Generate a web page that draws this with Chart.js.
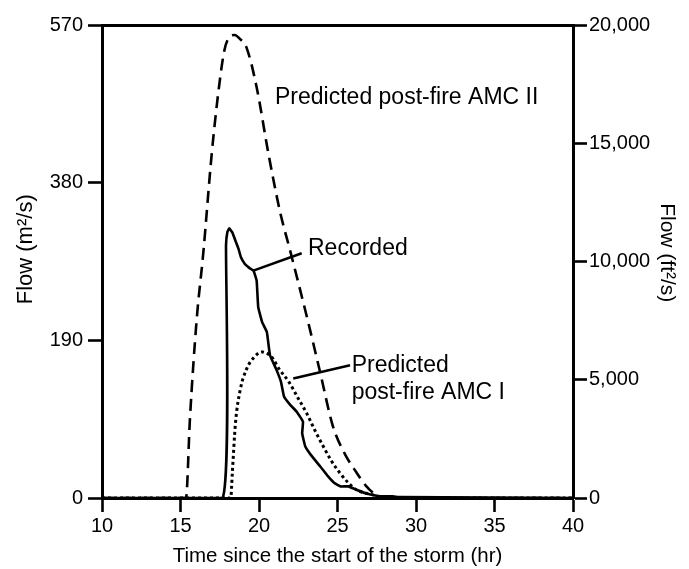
<!DOCTYPE html>
<html>
<head>
<meta charset="utf-8">
<script src="https://cdn.jsdelivr.net/npm/chart.js@4.4.1/dist/chart.umd.min.js"></script>
<style>
  html, body { margin: 0; padding: 0; background: #fff; }
  #wrap { width: 689px; height: 569px; }
</style>
</head>
<body>
<div id="wrap"><canvas id="c" width="689" height="569"></canvas></div>
<script>
// ---- Data (time in hr, flow in m²/s) ----
const amc2Time  = [10, 15.35, 15.6, 16.03, 16.45, 16.99, 17.45, 17.8, 18.1, 18.45, 18.8, 19.2, 19.85, 20.6, 21.34, 21.97, 23.04, 23.9, 24.7, 25.5, 26.2, 26.8, 27.5, 28, 40];
const amc2Flow  = [0, 0, 95, 215, 295, 415, 495, 540, 555, 558, 553, 543, 495, 415, 345, 299, 219, 151, 87, 52, 31, 15, 3, 0, 0];

const recTime   = [10, 17.68, 17.9, 17.98, 18.1, 18.3, 18.5, 18.7, 18.85, 19.1, 19.4, 19.65, 19.85, 19.95, 20.2, 20.5, 20.7, 21.1, 21.4, 21.6, 22.0, 22.4, 22.8, 22.75, 22.95, 23.3, 23.9, 24.4, 24.8, 25.2, 25.7, 26.2, 26.9, 27.7, 28.5, 29, 40];
const recFlow   = [0, 0, 305, 320, 325, 320, 310, 300, 290, 282, 277, 274, 262, 230, 212, 200, 172, 155, 140, 122, 112, 104, 92, 78, 62, 52, 38, 26, 18, 14, 14, 10, 5, 2, 2, 1, 0];

const amc1Time  = [10, 18.2, 18.3, 18.5, 18.8, 19.2, 19.7, 20.2, 20.8, 21.3, 21.9, 22.5, 23.04, 23.6, 24.1, 24.6, 25.16, 25.7, 26.2, 27.2, 28, 40];
const amc1Flow  = [0, 0, 30, 90, 130, 155, 170, 176, 170, 155, 140, 120, 102, 80, 62, 45, 30, 18, 10, 4, 0, 0];

// leader lines (data units)
const recLeaderTime  = [19.64, 22.72];
const recLeaderFlow  = [274, 295];
const amc1LeaderTime = [22.18, 25.8];
const amc1LeaderFlow = [144, 160];

// axis ticks
const xTicks      = [10, 15, 20, 25, 30, 35, 40];
const yLeftTicks  = [0, 190, 380, 570];
const yRightTicks = [0, 5000, 10000, 15000, 20000];

// annotation labels
const labelTexts = ["Predicted post-fire AMC II", "Recorded", "Predicted", "post-fire AMC I"];
const labelTime  = [21.02, 23.12, 25.9, 25.9];
const labelFlow  = [483, 300, 160, 127];

const pts = (xs, ys) => xs.map((x, i) => ({ x: x, y: ys[i] }));

const FONT = "'Liberation Sans', Arial, sans-serif";

const labelPlugin = {
  id: 'labels',
  afterDatasetsDraw(chart) {
    const ctx = chart.ctx;
    const xs = chart.scales.x, ys = chart.scales.y;
    ctx.save();
    ctx.fillStyle = '#000';
    ctx.font = "23px " + FONT;
    ctx.textAlign = 'left';
    ctx.textBaseline = 'middle';
    labelTexts.forEach((t, i) => {
      ctx.fillText(t, xs.getPixelForValue(labelTime[i]), ys.getPixelForValue(labelFlow[i]));
    });
    ctx.restore();
  }
};

const lineBase = { borderColor: '#000', pointRadius: 0, fill: false, clip: false };

new Chart(document.getElementById('c'), {
  type: 'line',
  data: {
    datasets: [
      Object.assign({}, lineBase, { label: 'Predicted post-fire AMC II', data: pts(amc2Time, amc2Flow), borderWidth: 2.6, borderDash: [12, 7], cubicInterpolationMode: 'monotone' }),
      Object.assign({}, lineBase, { label: 'Recorded', data: pts(recTime, recFlow), borderWidth: 2.6, tension: 0.1 }),
      Object.assign({}, lineBase, { label: 'Predicted post-fire AMC I', data: pts(amc1Time, amc1Flow), borderWidth: 3, borderDash: [3, 3], cubicInterpolationMode: 'monotone' }),
      Object.assign({}, lineBase, { label: 'rec leader', data: pts(recLeaderTime, recLeaderFlow), borderWidth: 2.6 }),
      Object.assign({}, lineBase, { label: 'amc1 leader', data: pts(amc1LeaderTime, amc1LeaderFlow), borderWidth: 2.6 })
    ]
  },
  options: {
    responsive: false,
    animation: false,
    devicePixelRatio: 1,
    layout: { padding: { top: 25, left: 0, right: 0, bottom: 0 } },
    plugins: { legend: { display: false }, tooltip: { enabled: false } },
    scales: {
      x: {
        type: 'linear', position: 'bottom', min: 10, max: 40,
        afterBuildTicks: (s) => { s.ticks = xTicks.map(v => ({ value: v })); },
        ticks: { color: '#000', font: { family: FONT, size: 20 }, padding: 2 },
        grid: { drawOnChartArea: false, tickLength: 14, tickWidth: 2.6, tickColor: '#000' },
        border: { display: true, color: '#000', width: 3 },
        title: { display: true, text: 'Time since the start of the storm (hr)', color: '#000', font: { family: FONT, size: 20.5 }, padding: { top: 0, bottom: 0 } },
        afterFit: (s) => { s.height = 71; }
      },
      xTop: {
        type: 'linear', position: 'top', min: 10, max: 40,
        ticks: { display: false },
        grid: { display: false, drawTicks: false },
        border: { display: true, color: '#000', width: 3 },
        afterFit: (s) => { s.height = 0; }
      },
      y: {
        type: 'linear', position: 'left', min: 0, max: 570,
        afterBuildTicks: (s) => { s.ticks = yLeftTicks.map(v => ({ value: v })); },
        ticks: { color: '#000', font: { family: FONT, size: 20 }, padding: 5 },
        grid: { drawOnChartArea: false, tickLength: 14, tickWidth: 2.6, tickColor: '#000' },
        border: { display: true, color: '#000', width: 3 },
        title: { display: true, text: '    Flow (m²/s)', color: '#000', font: { family: FONT, size: 22 }, padding: { top: 13, bottom: 0 } },
        afterFit: (s) => { s.width = 102; }
      },
      y2: {
        type: 'linear', position: 'right', min: 0, max: 20000,
        afterBuildTicks: (s) => { s.ticks = yRightTicks.map(v => ({ value: v })); },
        ticks: { color: '#000', font: { family: FONT, size: 20 }, padding: 2,
                 callback: (v) => v.toLocaleString('en-US') },
        grid: { drawOnChartArea: false, tickLength: 14, tickWidth: 2.6, tickColor: '#000' },
        border: { display: true, color: '#000', width: 3 },
        title: { display: true, text: 'Flow (ft²/s)   ', color: '#000', font: { family: FONT, size: 21 }, padding: { top: 10, bottom: 0 } },
        afterFit: (s) => { s.width = 116; }
      }
    }
  },
  plugins: [labelPlugin]
});
</script>
</body>
</html>
